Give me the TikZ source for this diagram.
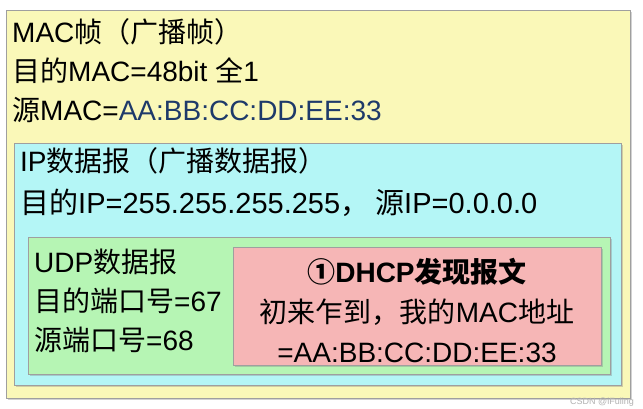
\documentclass[tikz,border=0pt]{standalone}
\usepackage{fontspec}
\setmainfont{Liberation Sans}
\newfontfamily\cjk{Noto Sans CJK SC}
\usetikzlibrary{shadows}
\definecolor{yel}{HTML}{FAF8B8}
\definecolor{cya}{HTML}{B4F6F6}
\definecolor{grn}{HTML}{B6F5B4}
\definecolor{pnk}{HTML}{F6B6B6}
\definecolor{addr}{HTML}{1E3A6A}
\begin{document}
\begin{tikzpicture}[x=1pt,y=-1pt,
  box/.style={draw=gray!75, line width=1pt, anchor=north west, inner sep=0pt,
    drop shadow={shadow xshift=1.5pt, shadow yshift=-1.5pt, opacity=0.35}},
  txt/.style={anchor=base west, inner sep=0pt, font=\fontsize{28}{32}\selectfont},
  ctxt/.style={anchor=base, inner sep=0pt, font=\fontsize{28}{32}\selectfont}]
\useasboundingbox (0,0) rectangle (643,409);
\fill[white] (0,0) rectangle (643,409);
\node[box, fill=yel, minimum width=624pt, minimum height=388pt] (mac) at (6,10) {};
\node[box, fill=cya, minimum width=607pt, minimum height=242pt] (ip) at (14,143) {};
\node[box, fill=grn, minimum width=582pt, minimum height=137pt] (udp) at (28,237) {};
\node[box, fill=pnk, minimum width=368pt, minimum height=118pt] (dhcp) at (233,247) {};

\node[txt] (m1) at (12,43) {MAC{\cjk 帧（广播帧）}};
\node[txt] (m2) at (12,82) {{\cjk 目的}MAC=48bit {\cjk 全}1};
\node[txt] (m3) at (12,121) {{\cjk 源}MAC=\textcolor{addr}{AA:BB:CC:DD:EE:33}};

\node[txt] (i1) at (20,172) {IP{\cjk 数据报（广播数据报）}};
\node[txt, font=\fontsize{29}{33}\selectfont] (i2) at (20,213) {{\cjk 目的}IP=255.255.255.255{\cjk ，}\hspace{6pt}{\cjk 源}IP=0.0.0.0};

\node[txt] (u1) at (34,272) {UDP{\cjk 数据报}};
\node[txt] (u2) at (34,311) {{\cjk 目的端口号}=67};
\node[txt] (u3) at (34,350) {{\cjk 源端口号}=68};

\node[ctxt] (d1) at (417,282) {\bfseries{\cjk ①}DHCP{\cjk 发现报文}};
\node[ctxt] (d2) at (417,322) {{\cjk 初来乍到，我的}MAC{\cjk 地址}};
\node[ctxt] (d3) at (417,362) {=AA:BB:CC:DD:EE:33};

\node[anchor=base east, inner sep=0pt, font=\fontsize{9}{10}\selectfont, text=gray!60] (wm) at (634,404) {CSDN @iFuling};
\end{tikzpicture}
\end{document}
